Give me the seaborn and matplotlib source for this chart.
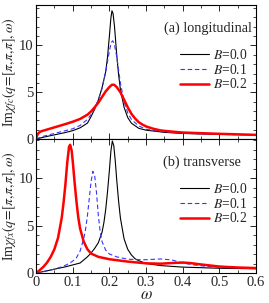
import numpy as np
import pandas as pd
import matplotlib.pyplot as plt
import seaborn as sns
from matplotlib.ticker import MultipleLocator

# (a) longitudinal, values
w_a0 = [0, 0.02, 0.05, 0.08, 0.10, 0.12, 0.14, 0.15, 0.16, 0.17, 0.18, 0.19, 0.195, 0.20, 0.204,
        0.207, 0.21, 0.214, 0.22, 0.225, 0.23, 0.24, 0.25, 0.26, 0.28, 0.30, 0.35, 0.40, 0.50, 0.60]
chi_a0 = [0, 0.2, 0.45, 0.7, 0.9, 1.2, 1.7, 2.4, 3.2, 4.2, 5.5, 7.2, 8.8, 11.0, 12.9,
          13.7, 13.4, 12.0, 9.0, 6.9, 5.3, 3.4, 2.3, 1.7, 1.15, 0.95, 0.72, 0.6, 0.5, 0.45]

w_a1 = [0, 0.02, 0.05, 0.08, 0.10, 0.12, 0.14, 0.15, 0.16, 0.17, 0.18, 0.19, 0.195, 0.20, 0.205,
        0.209, 0.213, 0.22, 0.225, 0.23, 0.24, 0.25, 0.26, 0.28, 0.30, 0.35, 0.40, 0.50, 0.60]
chi_a1 = [0, 0.3, 0.6, 0.9, 1.1, 1.45, 2.1, 2.6, 3.3, 4.2, 5.4, 7.2, 8.3, 9.4, 10.3,
          10.5, 10.2, 8.8, 7.4, 6.0, 4.0, 2.8, 2.1, 1.4, 1.05, 0.75, 0.62, 0.5, 0.45]

w_a2 = [0, 0.003, 0.007, 0.012, 0.02, 0.05, 0.08, 0.10, 0.12, 0.14, 0.15, 0.16, 0.17, 0.18, 0.19,
        0.20, 0.207, 0.213, 0.22, 0.23, 0.24, 0.25, 0.26, 0.27, 0.28, 0.29, 0.30, 0.32, 0.34,
        0.37, 0.40, 0.50, 0.60]
chi_a2 = [0, 0.4, 0.65, 0.8, 0.9, 1.25, 1.6, 1.85, 2.15, 2.6, 2.95, 3.4, 3.9, 4.5, 5.1,
          5.55, 5.8, 5.8, 5.55, 5.0, 4.2, 3.4, 2.7, 2.2, 1.8, 1.55, 1.35, 1.1, 0.92,
          0.8, 0.7, 0.56, 0.45]

# (b) transverse
w_b0 = [0, 0.02, 0.05, 0.08, 0.10, 0.12, 0.14, 0.15, 0.16, 0.17, 0.18, 0.185, 0.19, 0.195, 0.20,
        0.204, 0.208, 0.212, 0.216, 0.22, 0.225, 0.23, 0.24, 0.25, 0.26, 0.27, 0.28, 0.30,
        0.34, 0.40, 0.50, 0.60]
chi_b0 = [0, 0.15, 0.4, 0.65, 0.85, 1.05, 1.7, 2.1, 2.6, 3.2, 4.3, 5.3, 6.7, 8.6, 10.8,
          12.8, 13.9, 13.4, 11.8, 9.8, 7.6, 5.8, 3.6, 2.5, 1.9, 1.5, 1.3, 1.0,
          0.78, 0.62, 0.5, 0.45]

w_b1 = [0, 0.02, 0.05, 0.075, 0.09, 0.10, 0.11, 0.12, 0.13, 0.135, 0.14, 0.145, 0.15, 0.155,
        0.16, 0.165, 0.17, 0.175, 0.18, 0.19, 0.20, 0.22, 0.25, 0.28, 0.30, 0.34, 0.37,
        0.40, 0.43, 0.46, 0.50, 0.55, 0.60]
chi_b1 = [0, 0.15, 0.4, 0.72, 1.0, 1.25, 1.6, 2.3, 3.6, 4.6, 6.0, 7.8, 9.6, 10.7,
          10.2, 8.4, 6.0, 4.3, 3.3, 2.4, 2.0, 1.7, 1.45, 1.4, 1.4, 1.48, 1.38,
          1.05, 0.85, 0.72, 0.62, 0.55, 0.5]

w_b2 = [0, 0.01, 0.02, 0.03, 0.04, 0.05, 0.06, 0.07, 0.075, 0.08, 0.085, 0.09, 0.093, 0.097,
        0.10, 0.105, 0.11, 0.115, 0.12, 0.13, 0.14, 0.15, 0.17, 0.20, 0.25, 0.30, 0.34,
        0.37, 0.40, 0.42, 0.45, 0.50, 0.55, 0.60]
chi_b2 = [0, 0.3, 0.65, 1.1, 1.7, 2.5, 3.7, 5.8, 7.4, 9.3, 11.6, 13.3, 13.5, 12.9,
          11.8, 9.6, 7.6, 5.9, 4.7, 3.3, 2.5, 2.05, 1.7, 1.45, 1.2, 1.02, 0.98,
          1.05, 1.1, 1.05, 0.9, 0.68, 0.58, 0.52]

B_labels = ["0.0", "0.1", "0.2"]
colors = ["black", "#3535ff", "#ff0000"]
widths = [0.8, 0.8, 1.8]
styles = ["-", (0, (4, 2.5)), "-"]

sns.set_style("ticks")
plt.rcParams["font.family"] = "serif"
plt.rcParams["font.serif"] = ["Liberation Serif", "DejaVu Serif"]
plt.rcParams["mathtext.fontset"] = "stix"

fig, axes = plt.subplots(2, 1, figsize=(2.69, 3.03), dpi=100, sharex=True)
fig.subplots_adjust(left=0.134, right=0.952, top=0.983, bottom=0.099, hspace=0)

panels = [
    (axes[0], [(w_a0, chi_a0), (w_a1, chi_a1), (w_a2, chi_a2)], "(a) longitudinal", 0.98, "fc", 14.3),
    (axes[1], [(w_b0, chi_b0), (w_b1, chi_b1), (w_b2, chi_b2)], "(b) transverse", 0.93, "fx", 14.1),
]

for ax, series, title, tx, sub, ytop in panels:
    for (w, chi), b, c, lw, ls in zip(series, B_labels, colors, widths, styles):
        df = pd.DataFrame({"omega": w, "chi": chi})
        sns.lineplot(data=df, x="omega", y="chi", ax=ax, color=c, lw=lw, ls=ls,
                     estimator=None, label=f"$B$=" + b)
    ax.set_xlim(0, 0.6)
    ax.set_ylim(0, ytop)
    ax.xaxis.set_major_locator(MultipleLocator(0.1))
    ax.xaxis.set_minor_locator(MultipleLocator(0.05))
    ax.yaxis.set_major_locator(MultipleLocator(5))
    ax.yaxis.set_minor_locator(MultipleLocator(1))
    ax.tick_params(which="both", direction="in", top=True, right=True, labelsize=10.5, pad=2)
    ax.tick_params(which="major", length=4.5, width=0.7)
    ax.tick_params(which="minor", length=2.5, width=0.6)
    for s in ax.spines.values():
        s.set_linewidth(0.8)
        s.set_color("black")
    ax.text(tx, 0.83, title, transform=ax.transAxes, ha="right", va="center", fontsize=10.3)
    ax.set_ylabel(r"Im$\chi_{" + sub + r"}(q\!=\![\pi,\!\pi,\!\pi],\omega)$", fontsize=10, labelpad=0)
    ax.set_xlabel("")
    ax.legend(loc="upper right", bbox_to_anchor=(0.96, 0.68), frameon=False, fontsize=9.8,
              handlelength=2.1, handletextpad=0.3, labelspacing=0.05, borderpad=0, borderaxespad=0)

axes[0].set_yticks([0, 5, 10])
axes[1].set_yticks([0, 5, 10])
axes[1].set_xticks([0, 0.1, 0.2, 0.3, 0.4, 0.5, 0.6])
axes[1].set_xticklabels(["0", "0.1", "0.2", "0.3", "0.4", "0.5", "0.6"])
axes[1].set_xlabel(r"$\omega$", fontsize=12, labelpad=-1)

fig.savefig("out.png", dpi=100)
